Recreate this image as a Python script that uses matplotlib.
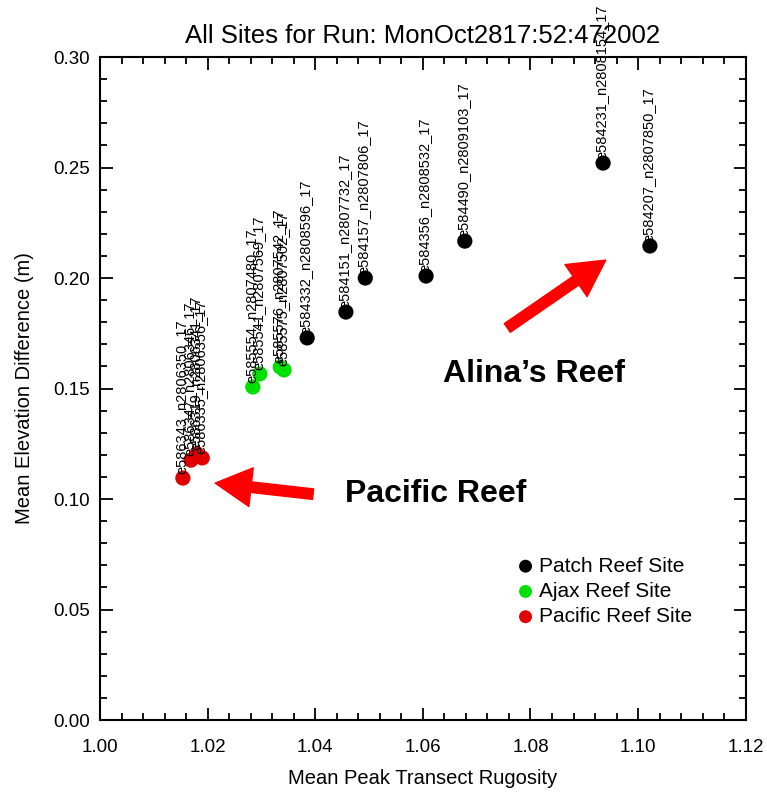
import matplotlib as mpl
mpl.use('Agg')
import matplotlib.pyplot as plt
import matplotlib.ticker as ticker
from matplotlib import rcParams

rcParams['font.family'] = ['Liberation Sans', 'DejaVu Sans']
rcParams['xtick.direction'] = 'in'
rcParams['ytick.direction'] = 'in'
rcParams['xtick.top'] = True
rcParams['ytick.right'] = True

#---------------------------------------------------------------- data
patch_x = [1.0385, 1.0457, 1.0493, 1.0606, 1.0678, 1.0935, 1.1022]
patch_y = [0.1729, 0.1846, 0.2000, 0.2009, 0.2167, 0.2520, 0.2145]
patch_names = ['e584332_n2808596_17', 'e584151_n2807732_17', 'e584157_n2807806_17',
               'e584356_n2808532_17', 'e584490_n2809103_17', 'e584231_n2808154_17',
               'e584207_n2807850_17']

ajax_x = [1.0284, 1.0297, 1.0335, 1.0342]
ajax_y = [0.1507, 0.1566, 0.1597, 0.1584]
ajax_names = ['e585554_n2807480_17', 'e585541_n2807569_17',
              'e585576_n2807542_17', 'e585575_n2807502_17']

pacific_x = [1.0154, 1.0169, 1.0180, 1.0190]
pacific_y = [0.1095, 0.1176, 0.1204, 0.1186]
pacific_names = ['e586343_n2806350_17', 'e586347_n2806346_17',
                 'e586319_n2806341_17', 'e586335_n2806356_17']

# annotation arrows: (tail x, tail y) -> (head x, head y)
alina_arrow = [(1.0757, 0.1774), (1.0940, 0.2081)]
pacific_arrow = [(1.0396, 0.1022), (1.0214, 0.1072)]

#---------------------------------------------------------------- figure
fig = plt.figure(figsize=(7.67, 7.95), dpi=100)
ax = fig.add_axes([0.1304, 0.0943, 0.8418, 0.8340])

groups = [(patch_x, patch_y, patch_names, 'black', 'Patch Reef Site'),
          (ajax_x, ajax_y, ajax_names, '#00e000', 'Ajax Reef Site'),
          (pacific_x, pacific_y, pacific_names, '#e00000', 'Pacific Reef Site')]

for xs, ys, names, col, lab in groups:
    ax.scatter(xs, ys, s=120, color=col, edgecolors='none', label=lab, zorder=3)
    for x, y, n in zip(xs, ys, names):
        ax.annotate(n, (x, y), xytext=(-1, 3), textcoords='offset points',
                    rotation=90, ha='center', va='bottom', fontsize=10.5,
                    annotation_clip=False, zorder=4)

ax.set_xlim(1.0, 1.12)
ax.set_ylim(0.0, 0.30)
ax.xaxis.set_major_locator(ticker.MultipleLocator(0.02))
ax.xaxis.set_minor_locator(ticker.MultipleLocator(0.004))
ax.yaxis.set_major_locator(ticker.MultipleLocator(0.05))
ax.yaxis.set_minor_locator(ticker.MultipleLocator(0.01))
ax.xaxis.set_major_formatter(ticker.FormatStrFormatter('%.2f'))
ax.yaxis.set_major_formatter(ticker.FormatStrFormatter('%.2f'))
ax.tick_params(which='major', length=9, width=1.3, labelsize=13.5, pad=7)
ax.tick_params(which='minor', length=5, width=1.3)
ax.tick_params(axis='x', which='major', pad=14)
for sp in ax.spines.values():
    sp.set_linewidth(1.5)

ax.set_title('All Sites for Run: MonOct2817:52:472002', fontsize=18.5, pad=10)
ax.set_xlabel('Mean Peak Transect Rugosity', fontsize=14.5, labelpad=9)
ax.set_ylabel('Mean Elevation Difference (m)', fontsize=14.5, labelpad=14)

for tail, head in [alina_arrow, pacific_arrow]:
    ax.annotate('', xy=head, xytext=tail,
                arrowprops=dict(arrowstyle='simple,head_length=1.3,head_width=1.4,tail_width=0.38',
                                color='#ff0000', shrinkA=0, shrinkB=0, mutation_scale=20))

ax.text(1.0806, 0.1566, 'Alina\u2019s Reef', fontsize=23, fontweight='bold',
        ha='center', va='center')
ax.text(1.0623, 0.1023, 'Pacific Reef', fontsize=23, fontweight='bold',
        ha='center', va='center')

ax.legend(loc='lower left', bbox_to_anchor=(0.63, 0.129), frameon=False,
          fontsize=15, handletextpad=0.15, labelspacing=0.3, borderaxespad=0,
          handlelength=1.0, markerscale=0.85)

plt.savefig('out.png', dpi=100)
